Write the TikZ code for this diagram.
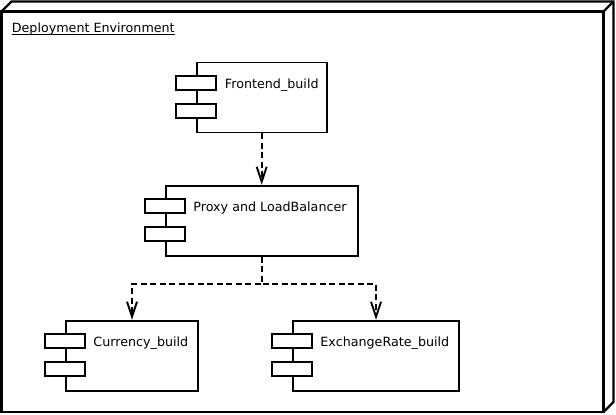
\documentclass[tikz,border=0pt]{standalone}
\usepackage{fontspec}
\setmainfont{DejaVu Sans}
\usetikzlibrary{arrows.meta}

\tikzset{
  comp/.style={draw=black, fill=white, line width=1.9pt, minimum height=70pt, inner sep=0pt},
  port/.style={draw=black, fill=white, line width=1.9pt, minimum width=40pt, minimum height=14pt, inner sep=0pt},
  lbl/.style={anchor=base west, inner sep=0pt, font=\fontsize{12.7}{15}\selectfont},
  dep/.style={line width=1.9pt, dash pattern=on 6pt off 3.5pt, -{Straight Barb[length=15pt,width=10pt]}},
}

\begin{document}
\begin{tikzpicture}[x=1pt,y=-1pt]
	\useasboundingbox (0,0) rectangle (616,415);
	% deployment node
	\draw [line width=2.2pt] (1.5,11.5) rectangle (603.5,412);
	\draw [line width=2.2pt] (1.5,11.5) -- (11.5,1.5) -- (613.5,1.5) -- (613.5,402) -- (603.5,412);
	\draw [line width=2.2pt] (603.5,11.5) -- (613.5,1.5);
	\node [lbl] (title) at (11.7,32) {Deployment Environment};
	\draw [line width=1.1pt] ([yshift=-2.7pt]title.base west) -- ([yshift=-2.7pt]title.base east);

	% components
	\node [comp, minimum width=130pt] (front) at (261.7,97.5) {};
	\node [port] (front-p1) at ([yshift=-21.5pt]front.north west) {};
	\node [port] (front-p2) at ([yshift=-49.5pt]front.north west) {};
	\node [lbl] (front-lbl) at ([xshift=29pt,yshift=-27pt]front.north west) {Frontend\_build};

	\node [comp, minimum width=192pt] (proxy) at (261.7,220.7) {};
	\node [port] (proxy-p1) at ([yshift=-21.5pt]proxy.north west) {};
	\node [port] (proxy-p2) at ([yshift=-49.5pt]proxy.north west) {};
	\node [lbl] (proxy-lbl) at ([xshift=28.5pt,yshift=-27pt]proxy.north west) {Proxy and LoadBalancer};

	\node [comp, minimum width=132.6pt] (curr) at (132,355.7) {};
	\node [port] (curr-p1) at ([yshift=-21.5pt]curr.north west) {};
	\node [port] (curr-p2) at ([yshift=-49.5pt]curr.north west) {};
	\node [lbl] (curr-lbl) at ([xshift=28.5pt,yshift=-27pt]curr.north west) {Currency\_build};

	\node [comp, minimum width=166.6pt] (exch) at (376,355.7) {};
	\node [port] (exch-p1) at ([yshift=-21.5pt]exch.north west) {};
	\node [port] (exch-p2) at ([yshift=-49.5pt]exch.north west) {};
	\node [lbl] (exch-lbl) at ([xshift=28.5pt,yshift=-27pt]exch.north west) {ExchangeRate\_build};

	% dependencies
	\coordinate (split) at ([yshift=-27.6pt]proxy.south);
	\draw [dep] (front.south) -- (proxy.north);
	\draw [dep] (proxy.south) -- (split) -| (curr.north);
	\draw [dep] (proxy.south) -- (split) -| (exch.north);
\end{tikzpicture}
\end{document}
